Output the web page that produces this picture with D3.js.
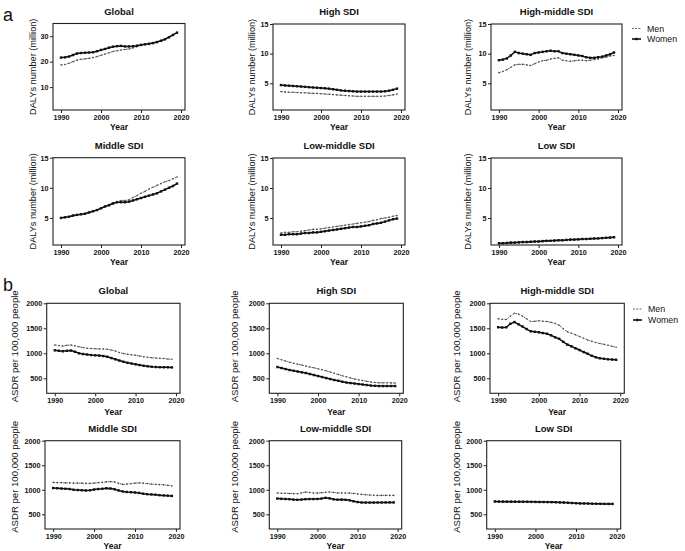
<!DOCTYPE html>
<html><head><meta charset="utf-8">
<script src="https://cdn.jsdelivr.net/npm/d3@7"></script>
<style>
body{margin:0;background:#fff}
svg{display:block}
text{font-family:Arial,"Liberation Sans",sans-serif;fill:#111}
</style>
</head><body>
<svg id="c" width="685" height="551"></svg>
<script>
// ---------- data ----------
const years = [1990,1991,1992,1993,1994,1995,1996,1997,1998,1999,2000,2001,2002,2003,2004,2005,2006,2007,2008,2009,2010,2011,2012,2013,2014,2015,2016,2017,2018,2019];
const xTicks = [1990,2000,2010,2020];
const dalysTicksGlobal = [10,20,30];
const dalysTicks = [5,10,15];
const asdrTicks = [500,1000,1500,2000];
const seriesNames = ["Men","Women"];

// DALYs number (million)
const dalysGlobalMen   = [18.7,18.9,19.4,20.0,20.6,20.9,21.1,21.3,21.6,22.0,22.5,23.0,23.5,24.0,24.3,24.6,24.8,25.0,25.4,25.9,26.4,26.8,27.1,27.4,27.8,28.3,28.9,29.7,30.6,31.4];
const dalysGlobalWomen = [21.6,21.7,22.0,22.6,23.2,23.4,23.5,23.6,23.7,24.1,24.6,25.0,25.5,25.9,26.1,26.2,26.0,26.0,26.1,26.3,26.6,26.8,27.0,27.3,27.7,28.2,28.8,29.6,30.5,31.4];
const dalysHighMen     = [3.6,3.55,3.5,3.5,3.45,3.4,3.4,3.35,3.3,3.3,3.25,3.2,3.15,3.1,3.05,3.0,2.95,2.9,2.85,2.8,2.8,2.8,2.8,2.8,2.8,2.8,2.85,2.95,3.05,3.2];
const dalysHighWomen   = [4.7,4.65,4.6,4.55,4.5,4.45,4.4,4.35,4.3,4.25,4.2,4.15,4.1,4.0,3.9,3.8,3.75,3.7,3.65,3.6,3.6,3.6,3.6,3.6,3.6,3.6,3.65,3.75,3.9,4.1];
const dalysHMMen       = [6.8,7.0,7.3,7.7,8.1,8.2,8.2,8.1,8.0,8.3,8.6,8.8,8.9,9.1,9.2,9.3,8.9,8.8,8.7,8.8,8.9,8.9,8.8,8.9,9.0,9.1,9.3,9.4,9.6,9.7];
const dalysHMWomen     = [8.9,9.0,9.2,9.7,10.3,10.1,10.0,9.9,9.8,10.1,10.2,10.3,10.4,10.5,10.4,10.4,10.1,10.0,9.9,9.8,9.7,9.6,9.4,9.3,9.3,9.4,9.5,9.7,9.9,10.2];
const dalysMidMen      = [5.0,5.1,5.2,5.3,5.5,5.6,5.7,5.9,6.1,6.3,6.6,6.9,7.2,7.5,7.7,7.9,7.9,8.0,8.4,8.7,9.1,9.4,9.8,10.1,10.4,10.7,11.0,11.2,11.5,11.8];
const dalysMidWomen    = [5.0,5.1,5.2,5.4,5.5,5.6,5.7,5.9,6.1,6.3,6.6,6.9,7.1,7.4,7.6,7.6,7.6,7.7,7.9,8.1,8.3,8.5,8.7,8.9,9.1,9.4,9.7,10.0,10.3,10.7];
const dalysLMMen       = [2.5,2.6,2.6,2.7,2.7,2.8,2.9,3.0,3.1,3.1,3.2,3.3,3.4,3.5,3.6,3.7,3.8,3.9,4.0,4.1,4.2,4.3,4.4,4.6,4.7,4.9,5.0,5.1,5.3,5.4];
const dalysLMWomen     = [2.2,2.2,2.3,2.3,2.3,2.4,2.5,2.5,2.6,2.6,2.7,2.8,2.9,3.0,3.1,3.2,3.3,3.4,3.5,3.5,3.6,3.7,3.8,4.0,4.1,4.2,4.4,4.6,4.8,4.9];
const dalysLowMen      = [0.7,0.72,0.75,0.8,0.82,0.86,0.9,0.92,0.96,1.0,1.02,1.06,1.1,1.12,1.16,1.2,1.22,1.26,1.3,1.33,1.37,1.41,1.45,1.5,1.54,1.58,1.62,1.66,1.7,1.74];
const dalysLowWomen    = [0.8,0.8,0.85,0.9,0.9,0.95,1.0,1.0,1.05,1.1,1.1,1.15,1.2,1.2,1.25,1.3,1.3,1.35,1.4,1.4,1.45,1.5,1.5,1.55,1.6,1.6,1.65,1.7,1.75,1.8];

// ASDR per 100,000 people
const asdrGlobalMen   = [1165,1155,1145,1160,1165,1150,1130,1115,1100,1095,1090,1088,1085,1080,1065,1045,1015,995,980,970,960,945,930,920,910,905,900,895,885,880];
const asdrGlobalWomen = [1060,1050,1040,1050,1055,1030,1000,985,975,965,960,955,945,930,905,880,855,830,810,795,780,765,750,740,730,725,722,720,720,718];
const asdrHighMen     = [895,870,845,820,800,780,765,745,725,710,690,670,650,625,600,575,550,530,505,485,470,455,440,425,415,410,410,410,408,405];
const asdrHighWomen   = [725,705,685,665,650,635,620,605,585,565,545,525,505,485,465,450,430,415,405,395,385,375,365,355,350,345,345,345,345,345];
const asdrHMMen       = [1690,1680,1675,1740,1800,1785,1740,1690,1635,1640,1650,1640,1635,1620,1595,1560,1490,1430,1400,1370,1335,1300,1265,1240,1215,1195,1180,1160,1140,1120];
const asdrHMWomen     = [1520,1515,1520,1590,1625,1580,1535,1485,1440,1430,1420,1405,1390,1360,1320,1290,1230,1175,1140,1100,1065,1025,990,950,920,900,890,880,875,870];
const asdrMidMen      = [1150,1145,1145,1140,1140,1135,1135,1135,1130,1130,1135,1145,1150,1160,1165,1160,1130,1110,1115,1125,1135,1140,1135,1125,1115,1110,1105,1100,1090,1080];
const asdrMidWomen    = [1035,1030,1025,1020,1015,1000,995,990,985,990,1005,1015,1020,1030,1025,1010,985,965,955,950,945,935,920,910,905,900,890,885,880,875];
const asdrLMMen       = [935,930,928,925,922,918,935,952,945,935,932,940,950,955,945,935,935,935,932,925,915,905,898,892,888,885,885,885,885,885];
const asdrLMWomen     = [820,815,812,808,800,795,800,808,810,810,812,820,835,825,805,798,800,795,785,765,750,740,738,738,738,740,740,742,742,742];
const asdrLowMen      = [770,768,768,767,766,765,765,764,763,762,760,758,757,756,755,753,750,746,742,738,733,728,724,722,720,718,716,716,715,715];
const asdrLowWomen    = [760,758,758,757,756,756,755,755,754,753,752,750,750,748,747,745,742,738,734,730,726,722,720,718,716,714,713,712,712,712];

// ---------- layout ----------
const svg = d3.select("#c");
const dalysLabel = "DALYs number (million)";
const asdrLabel = "ASDR per 100,000 people";

const panels = [
  {title:"Global", men:dalysGlobalMen, women:dalysGlobalWomen, box:[53,23.5,185,110], y:[1,35], ticks:dalysTicksGlobal, ylab:dalysLabel, labX:33, labDY:0},
  {title:"High SDI", men:dalysHighMen, women:dalysHighWomen, box:[273,24,405,110], y:[0.5,15], ticks:dalysTicks, ylab:dalysLabel, labX:252, labDY:0},
  {title:"High-middle SDI", men:dalysHMMen, women:dalysHMWomen, box:[491,24,622,110], y:[0.5,15], ticks:dalysTicks, ylab:dalysLabel, labX:468, labDY:0, legend:[632,28.5,39]},
  {title:"Middle SDI", men:dalysMidMen, women:dalysMidWomen, box:[53,157.7,185,245], y:[0.5,15], ticks:dalysTicks, ylab:dalysLabel, labX:33, labDY:0},
  {title:"Low-middle SDI", men:dalysLMMen, women:dalysLMWomen, box:[273,158,405,245], y:[0.5,15], ticks:dalysTicks, ylab:dalysLabel, labX:252, labDY:0},
  {title:"Low SDI", men:dalysLowMen, women:dalysLowWomen, box:[491,158,622,245], y:[0.5,15], ticks:dalysTicks, ylab:dalysLabel, labX:468, labDY:0},
  {title:"Global", men:asdrGlobalMen, women:asdrGlobalWomen, box:[46.7,303.3,180,393.3], y:[200,2000], ticks:asdrTicks, ylab:asdrLabel, labX:15, labDY:-2},
  {title:"High SDI", men:asdrHighMen, women:asdrHighWomen, box:[269.3,303.3,403.3,393.3], y:[200,2000], ticks:asdrTicks, ylab:asdrLabel, labX:235, labDY:-2},
  {title:"High-middle SDI", men:asdrHMMen, women:asdrHMWomen, box:[490,303.3,624.3,393.3], y:[200,2000], ticks:asdrTicks, ylab:asdrLabel, labX:457, labDY:-2, legend:[633,309,320]},
  {title:"Middle SDI", men:asdrMidMen, women:asdrMidWomen, box:[45,440.7,180,529], y:[200,2000], ticks:asdrTicks, ylab:asdrLabel, labX:15, labDY:-8},
  {title:"Low-middle SDI", men:asdrLMMen, women:asdrLMWomen, box:[269.3,440.7,401.7,529], y:[200,2000], ticks:asdrTicks, ylab:asdrLabel, labX:235, labDY:-8},
  {title:"Low SDI", men:asdrLowMen, women:asdrLowWomen, box:[486.7,440.7,620.7,529], y:[200,2000], ticks:asdrTicks, ylab:asdrLabel, labX:457, labDY:-8}
];

svg.append("text").attr("x",3).attr("y",21).attr("font-size",18).text("a");
svg.append("text").attr("x",3).attr("y",291).attr("font-size",18).text("b");

panels.forEach(p => {
  const [x0,y0,x1,y1] = p.box;
  const x = d3.scaleLinear().domain([1988,2021]).range([x0,x1]);
  const y = d3.scaleLinear().domain(p.y).range([y1,y0]);
  const g = svg.append("g");

  // frame
  g.append("rect").attr("x",x0).attr("y",y0).attr("width",x1-x0).attr("height",y1-y0)
    .attr("fill","none").attr("stroke","#222").attr("stroke-width",1.1);

  // axes
  const xa = g.append("g").attr("transform",`translate(0,${y1})`)
    .call(d3.axisBottom(x).tickValues(xTicks).tickSize(3).tickPadding(2).tickFormat(d3.format("d")));
  const ya = g.append("g").attr("transform",`translate(${x0},0)`)
    .call(d3.axisLeft(y).tickValues(p.ticks).tickSize(3).tickPadding(1.5).tickFormat(d3.format("d")));
  [xa,ya].forEach(a=>{
    a.select(".domain").remove();
    a.selectAll("line").attr("stroke","#222");
    a.selectAll("text").attr("font-size",7.2).attr("font-weight","bold").style("fill","#111");
  });

  // title
  g.append("text").attr("x",(x0+x1)/2).attr("y",y0-9).attr("text-anchor","middle")
    .attr("font-size",9.5).attr("font-weight","bold").text(p.title);
  // x label
  g.append("text").attr("x",(x0+x1)/2).attr("y",y1+(p.y[1]>100 && y1<400 ? 21.5 : 20)).attr("text-anchor","middle")
    .attr("font-size",8.5).attr("font-weight","bold").text("Year");
  // y label
  g.append("text").attr("transform",`translate(${p.labX+3},${(y0+y1)/2+p.labDY}) rotate(-90)`).attr("text-anchor","middle")
    .attr("font-size",p.y[1]>100 ? 9.6 : 9.2).text(p.ylab);

  const line = d3.line().x((d,i)=>x(years[i])).y(d=>y(d)).curve(d3.curveLinear);

  // men
  g.append("path").datum(p.men).attr("d",line).attr("fill","none")
    .attr("stroke","#555").attr("stroke-width",0.9).attr("stroke-dasharray","2,1.2");
  g.selectAll(".mm").data(p.men).enter().append("circle")
    .attr("cx",(d,i)=>x(years[i])).attr("cy",d=>y(d)).attr("r",0.8).attr("fill","#444");
  // women
  g.append("path").datum(p.women).attr("d",line).attr("fill","none")
    .attr("stroke","#111").attr("stroke-width",1.5);
  g.selectAll(".wm").data(p.women).enter().append("rect")
    .attr("x",(d,i)=>x(years[i])-1.2).attr("y",d=>y(d)-1.2).attr("width",2.4).attr("height",2.4).attr("fill","#111");

  if (p.legend) {
    const [lx,ly1,ly2] = p.legend;
    g.append("line").attr("x1",lx).attr("x2",lx+9).attr("y1",ly1).attr("y2",ly1)
      .attr("stroke","#555").attr("stroke-width",0.9).attr("stroke-dasharray","2,1.2");
    g.append("line").attr("x1",lx).attr("x2",lx+9).attr("y1",ly2).attr("y2",ly2)
      .attr("stroke","#111").attr("stroke-width",1.6);
    g.append("rect").attr("x",lx+3.3).attr("y",ly2-1.2).attr("width",2.4).attr("height",2.4).attr("fill","#111");
    g.append("text").attr("x",lx+15).attr("y",ly1+3).attr("font-size",8.8).text(seriesNames[0]);
    g.append("text").attr("x",lx+15).attr("y",ly2+3).attr("font-size",8.8).text(seriesNames[1]);
  }
});
</script>
</body></html>
